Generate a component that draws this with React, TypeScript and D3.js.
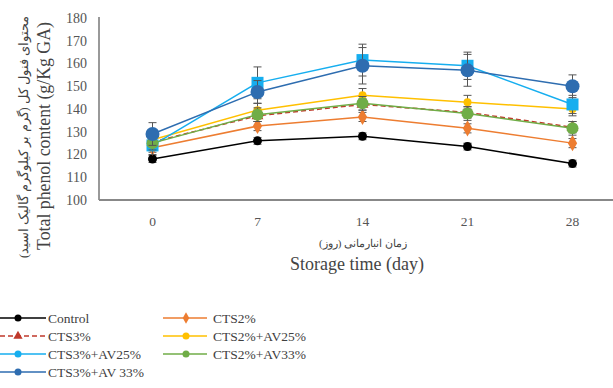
import React from "react";
import * as d3 from "d3";

const days = ["0", "7", "14", "21", "28"];
const yTicks = [100, 110, 120, 130, 140, 150, 160, 170, 180];

const control = [118, 126, 128, 123.5, 116];
const cts2 = [123, 132.5, 136.5, 131.5, 125];
const cts3 = [125.5, 137, 142, 138.5, 132];
const cts2av25 = [126.5, 139.5, 146, 143, 140];
const cts3av25 = [124, 151.5, 161.5, 159, 142];
const cts2av33 = [125, 137.5, 142.5, 138, 131.5];
const cts3av33 = [129, 147.5, 159, 157, 150];

const errControl = [1.5, 1.5, 1.5, 1.5, 1.5];
const errCts2 = [2, 2, 2, 2, 2];
const errCts3 = [2.5, 2.5, 2.5, 2.5, 2.5];
const errCts2av25 = [3, 3, 3, 3, 3];
const errCts3av25 = [4, 7, 7, 6, 4];
const errCts2av33 = [3, 3, 3, 3, 3];
const errCts3av33 = [5, 5, 8, 7, 5];

const series = [
  { name: "Control", values: control, err: errControl, color: "#000000", marker: "circle", size: 4.5, dash: "" },
  { name: "CTS2%", values: cts2, err: errCts2, color: "#ED7D31", marker: "diamond", size: 5, dash: "" },
  { name: "CTS3%", values: cts3, err: errCts3, color: "#C0392B", marker: "triangle", size: 4.5, dash: "5,3" },
  { name: "CTS2%+AV25%", values: cts2av25, err: errCts2av25, color: "#FFC000", marker: "circle", size: 4, dash: "" },
  { name: "CTS3%+AV25%", values: cts3av25, err: errCts3av25, color: "#16AEEF", marker: "square", size: 6, dash: "" },
  { name: "CTS2%+AV33%", values: cts2av33, err: errCts2av33, color: "#70AD47", marker: "circle", size: 6, dash: "" },
  { name: "CTS3%+AV33%", values: cts3av33, err: errCts3av33, color: "#2E6DB0", marker: "circle", size: 7, dash: "" },
];

const legendOrder = [
  ["Control", "CTS2%"],
  ["CTS3%", "CTS2%+AV25%"],
  ["CTS3%+AV25%", "CTS2%+AV33%"],
  ["CTS3%+AV 33%", null],
];

const serif = "'Liberation Serif', 'Times New Roman', 'DejaVu Serif', serif";

function Marker({ type, x, y, r, color }: { type: string; x: number; y: number; r: number; color: string }) {
  if (type === "square") return <rect x={x - r} y={y - r} width={r * 2} height={r * 2} fill={color} />;
  if (type === "diamond") {
    const p = d3.symbol(d3.symbolDiamond, r * r * 3)();
    return <path d={p || ""} transform={`translate(${x},${y})`} fill={color} />;
  }
  if (type === "triangle") {
    const p = d3.symbol(d3.symbolTriangle, r * r * 3)();
    return <path d={p || ""} transform={`translate(${x},${y})`} fill={color} />;
  }
  return <circle cx={x} cy={y} r={r} fill={color} />;
}

export default function App() {
  const width = 613;
  const height = 388;
  const x = d3.scaleBand().domain(days).range([100, 625]);
  const y = d3.scaleLinear().domain([100, 180]).range([200, 18]);
  const cx = (d: string) => (x(d) || 0) + x.bandwidth() / 2;
  const line = d3
    .line<number>()
    .x((_, i) => cx(days[i]))
    .y((v) => y(v));

  const legendRows = [318, 336, 354, 372];
  const legendCols = [0, 163];

  return (
    <svg width={width} height={height} style={{ position: "absolute", left: 0, top: 0, background: "#fff" }}>
      {/* axes */}
      <line x1={99} x2={99} y1={17} y2={200} stroke="#777" strokeWidth={1.5} />
      <line x1={99} x2={613} y1={200} y2={200} stroke="#888" strokeWidth={1.8} />
      {yTicks.map((t) => (
        <text key={t} x={87} y={y(t)} dy="0.35em" textAnchor="end" fontFamily={serif} fontSize={14} fill="#555">
          {t}
        </text>
      ))}
      {days.map((d) => (
        <text key={d} x={cx(d)} y={221} dy="0.35em" textAnchor="middle" fontFamily={serif} fontSize={13.5} fill="#555">
          {d}
        </text>
      ))}
      <text x={363} y={243} dy="0.35em" textAnchor="middle" fontFamily={serif} fontSize={11} fill="#444" direction="rtl">
        زمان انبارمانی (روز)
      </text>
      <text x={357} y={264} dy="0.35em" textAnchor="middle" fontFamily={serif} fontSize={18} fill="#444">
        Storage time (day)
      </text>
      <text transform="translate(24,137) rotate(-90)" textAnchor="middle" dy="0.35em" fontFamily={serif} fontSize={12.5} fill="#444" direction="rtl">
        محتوای فنول کل (گرم بر کیلوگرم گالیک اسید)
      </text>
      <text transform="translate(44,136) rotate(-90)" textAnchor="middle" dy="0.35em" fontFamily={serif} fontSize={17.8} fill="#444">
        Total phenol content (g/Kg GA)
      </text>

      {/* series */}
      {series.map((s) => (
        <g key={s.name}>
          <path d={line(s.values) || ""} fill="none" stroke={s.color} strokeWidth={1.5} strokeDasharray={s.dash} />
          {s.values.map((v, i) => {
            const px = cx(days[i]);
            const e = s.err[i];
            return (
              <g key={i}>
                <line x1={px} x2={px} y1={y(v + e)} y2={y(v - e)} stroke="#555" strokeWidth={1} />
                <line x1={px - 4} x2={px + 4} y1={y(v + e)} y2={y(v + e)} stroke="#555" strokeWidth={1} />
                <line x1={px - 4} x2={px + 4} y1={y(v - e)} y2={y(v - e)} stroke="#555" strokeWidth={1} />
                <Marker type={s.marker} x={px} y={y(v)} r={s.size} color={s.color} />
              </g>
            );
          })}
        </g>
      ))}

      {/* legend */}
      {legendOrder.map((row, ri) =>
        row.map((label, ci) => {
          if (!label) return null;
          const s = series.find((q) => q.name === label.replace(" ", "")) || series[6];
          const lx = legendCols[ci];
          const ly = legendRows[ri];
          const lw = ci === 0 ? 46 : 44;
          return (
            <g key={label}>
              <line x1={lx} x2={lx + lw} y1={ly} y2={ly} stroke={s.color} strokeWidth={1.5} strokeDasharray={s.dash} />
              <Marker type={s.marker === "square" ? "circle" : s.marker} x={lx + (ci === 0 ? 18 : 23)} y={ly} r={3.5} color={s.color} />
              <text x={lx + (ci === 0 ? 48 : 50)} y={ly} dy="0.35em" fontFamily={serif} fontSize={13.5} fill="#404040">
                {label}
              </text>
            </g>
          );
        })
      )}
    </svg>
  );
}
